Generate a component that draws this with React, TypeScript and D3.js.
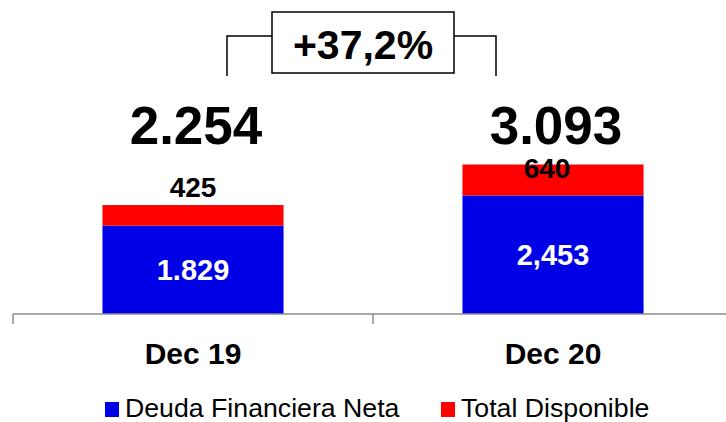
import React from 'react';
import * as d3 from 'd3';

const categories = ['Dec 19', 'Dec 20'];
const deudaNeta = [1829, 2453];
const totalDisponible = [425, 640];
const deudaLabels = ['1.829', '2,453'];
const disponibleLabels = ['425', '640'];
const totalLabels = ['2.254', '3.093'];
const legendNames = ['Deuda Financiera Neta', 'Total Disponible'];

const BLUE = '#0000e6';
const RED = '#ff0000';
const FONT = '"Liberation Sans", Arial, sans-serif';

const App = () => {
  const width = 726;
  const height = 422;
  const baseY = 314;

  const totals = categories.map((_, i) => deudaNeta[i] + totalDisponible[i]);
  const growth = totals[1] / totals[0] - 1;
  const growthText = '+' + d3.format('.1f')(growth * 100).replace('.', ',') + '%';

  const x = d3.scaleBand().domain(categories).range([13, 733]).padding(0);
  const barW = x.bandwidth() * 0.503;
  const y = d3.scaleLinear().domain([0, d3.max(totals)]).range([baseY, 164.5]);

  const cx = (c) => x(c) + x.bandwidth() / 2;

  return (
    <svg width={width} height={height} style={{ position: 'absolute', left: 0, top: 0 }} fontFamily={FONT}>
      {categories.map((c, i) => {
        const x0 = cx(c) - barW / 2;
        const yBlue = y(deudaNeta[i]);
        const yTop = y(totals[i]);
        return (
          <g key={c}>
            <rect x={x0} y={yBlue} width={barW} height={baseY - yBlue} fill={BLUE} />
            <rect x={x0} y={yTop} width={barW} height={yBlue - yTop} fill={RED} />
            <text x={cx(c)} y={(yBlue + baseY) / 2} dy="0.36em" textAnchor="middle" fill="#fff" fontWeight="bold" fontSize={29}>
              {deudaLabels[i]}
            </text>
            <text x={cx(c) - (i === 1 ? 6 : 0)} y={Math.max(yTop - 8, 178)} textAnchor="middle" fill="#000" fontWeight="bold" fontSize={28}>
              {disponibleLabels[i]}
            </text>
            <text x={cx(c) + 3} y={144} textAnchor="middle" fill="#000" fontWeight="bold" fontSize={53}>
              {totalLabels[i]}
            </text>
            <text x={cx(c)} y={364} textAnchor="middle" fill="#000" fontWeight="bold" fontSize={30}>
              {c}
            </text>
          </g>
        );
      })}

      {/* axis */}
      <line x1={13} x2={width} y1={baseY} y2={baseY} stroke="#8c8c8c" strokeWidth={1.5} />
      {x.domain().map((c) => (
        <line key={c} x1={x(c)} x2={x(c)} y1={baseY} y2={baseY + 10} stroke="#8c8c8c" strokeWidth={1.5} />
      ))}

      {/* growth bracket */}
      <path d="M227,76V36H272M454,36H496V76" fill="none" stroke="#000" strokeWidth={1.5} />
      <rect x={272} y={12} width={182} height={61} fill="#fff" stroke="#000" strokeWidth={1.5} />
      <text x={363} y={59} textAnchor="middle" fontWeight="bold" fontSize={41}>{growthText}</text>

      {/* legend */}
      {legendNames.map((n, i) => {
        const lx = i === 0 ? 105 : 441;
        return (
          <g key={n}>
            <rect x={lx} y={402} width={14} height={15} fill={i === 0 ? BLUE : RED} />
            <text x={lx + 20} y={417} fontSize={26.7}>{n}</text>
          </g>
        );
      })}
    </svg>
  );
};

export default App;
